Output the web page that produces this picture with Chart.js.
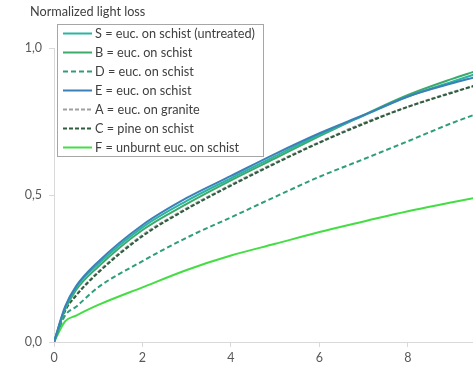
<!DOCTYPE html>
<html>
<head>
<meta charset="utf-8">
<script src="https://cdn.jsdelivr.net/npm/chart.js@4.4.0/dist/chart.umd.min.js"></script>
<style>
  html, body { margin: 0; padding: 0; background: #fff; overflow: hidden; }
  #wrap { width: 473px; height: 370px; }
</style>
</head>
<body>
<div id="wrap"><canvas id="lightLossChart" width="473" height="370"></canvas></div>
<script>
// x positions (same for every curve)
const xVals = [0, 0.25, 0.5, 1, 2, 3, 4, 5, 6, 7, 8, 9, 9.5];

const labels = [
  'S = euc. on schist (untreated)',
  'B = euc. on schist',
  'D = euc. on schist',
  'E = euc. on schist',
  'A = euc. on granite',
  'C = pine on schist',
  'F = unburnt euc. on schist'
];

const sVals = [0, 0.115, 0.185, 0.265, 0.39, 0.48, 0.557, 0.632, 0.705, 0.77, 0.835, 0.885, 0.91];
const bVals = [0, 0.11, 0.177, 0.256, 0.381, 0.47, 0.55, 0.625, 0.70, 0.772, 0.84, 0.895, 0.92];
const dVals = [0, 0.09, 0.12, 0.186, 0.275, 0.355, 0.424, 0.494, 0.562, 0.622, 0.683, 0.745, 0.773];
const eVals = [0, 0.12, 0.19, 0.273, 0.398, 0.49, 0.565, 0.64, 0.71, 0.772, 0.835, 0.88, 0.9];
const aVals = [0, 0.109, 0.16, 0.239, 0.364, 0.455, 0.535, 0.61, 0.68, 0.745, 0.80, 0.85, 0.87];
const cVals = [0, 0.105, 0.158, 0.236, 0.36, 0.452, 0.532, 0.607, 0.678, 0.742, 0.80, 0.848, 0.872];
const fVals = [0, 0.07, 0.09, 0.126, 0.186, 0.245, 0.294, 0.334, 0.374, 0.41, 0.445, 0.475, 0.49];

const colors = ['#2ab5a0', '#3caa6a', '#2e9e78', '#3d7fb8', '#a0a0a0', '#2e5e3e', '#44dd44'];
const dashes = [[], [], [5, 3], [], [4, 2], [4, 2], []];
const drawOrder = [1, 1, 1, 0, 2, 1, 1];
const series = [sVals, bVals, dVals, eVals, aVals, cVals, fVals];

const FONT = 'Lato, "Noto Sans", sans-serif';

const toPoints = (vals) => vals.map((v, i) => ({ x: xVals[i], y: v }));

// title + boxed legend drawn over the plot
const overlay = {
  id: 'overlay',
  afterDraw(chart) {
    const ctx = chart.ctx;
    ctx.save();
    ctx.font = '12.7px ' + FONT;
    ctx.fillStyle = '#404040';
    ctx.textBaseline = 'middle';
    ctx.textAlign = 'left';
    ctx.fillText('Normalized light loss', 30, 12);

    // legend box
    ctx.fillStyle = '#fff';
    ctx.fillRect(57.5, 24.5, 206, 132);
    ctx.strokeStyle = '#a6a6a6';
    ctx.lineWidth = 1;
    ctx.strokeRect(57.5, 24.5, 206, 132);

    chart.data.datasets.forEach((ds, i) => {
      const y = 33.5 + i * 19;
      ctx.beginPath();
      ctx.strokeStyle = ds.borderColor;
      ctx.lineWidth = 2;
      ctx.setLineDash(ds.borderDash || []);
      ctx.moveTo(63, y);
      ctx.lineTo(92, y);
      ctx.stroke();
      ctx.setLineDash([]);
      ctx.fillStyle = '#404040';
      ctx.fillText(ds.label, 95, y);
    });
    ctx.restore();
  }
};

new Chart(document.getElementById('lightLossChart'), {
  type: 'line',
  data: {
    datasets: series.map((vals, i) => ({
      label: labels[i],
      data: toPoints(vals),
      borderColor: colors[i],
      borderWidth: 2,
      borderDash: dashes[i],
      order: drawOrder[i],
      pointRadius: 0,
      cubicInterpolationMode: 'monotone',
      fill: false
    }))
  },
  options: {
    responsive: false,
    animation: false,
    layout: { padding: { top: 48, right: 0, bottom: 0, left: 0 } },
    plugins: {
      legend: { display: false },
      tooltip: { enabled: false }
    },
    scales: {
      x: {
        type: 'linear',
        min: 0,
        max: 9.47,
        afterFit: (s) => { s.height = 28; },
        border: { color: '#d9d9d9', width: 1 },
        grid: { drawOnChartArea: false, color: '#d9d9d9', tickLength: 5 },
        ticks: {
          stepSize: 2,
          includeBounds: false,
          padding: 3,
          color: '#595959',
          font: { family: FONT, size: 12.5 }
        }
      },
      y: {
        min: 0,
        max: 1,
        afterFit: (s) => { s.width = 54; },
        border: { color: '#d9d9d9', width: 1 },
        grid: { drawOnChartArea: false, color: '#d9d9d9', tickLength: 5 },
        ticks: {
          stepSize: 0.5,
          padding: 7,
          color: '#595959',
          font: { family: FONT, size: 12.5 },
          callback: (v) => v.toFixed(1).replace('.', ',')
        }
      }
    }
  },
  plugins: [overlay]
});
</script>
</body>
</html>
